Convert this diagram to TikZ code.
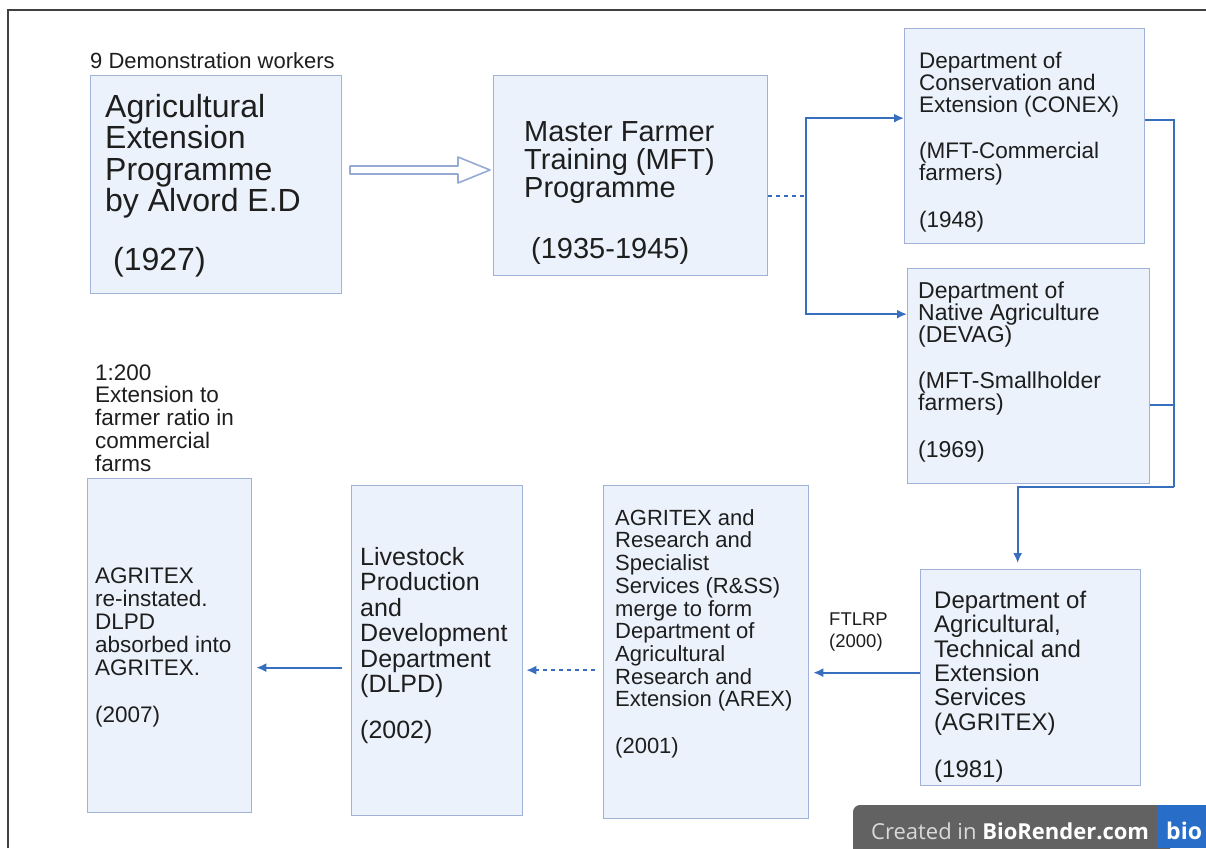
\documentclass[tikz,border=0pt]{standalone}
\usepackage{fontspec}
\setmainfont{Liberation Sans}
\newfontfamily\wmfont{Open Sans}
\usetikzlibrary{arrows.meta,calc}
\definecolor{boxfill}{RGB}{236,242,251}
\definecolor{boxline}{RGB}{160,178,214}
\definecolor{linkblue}{RGB}{55,110,190}
\definecolor{hollowline}{RGB}{150,170,210}
\definecolor{textcol}{RGB}{30,30,30}
\definecolor{wmgray}{RGB}{98,98,98}
\definecolor{wmblue}{RGB}{40,110,200}
\newcommand\topstrut{\rule{0pt}{30pt}}
\tikzset{
  box/.style = {draw = boxline, fill = boxfill, line width = 1.3pt, anchor = north west, inner sep = 0pt},
  txt/.style = {anchor = north west, inner sep = 0pt, align = left, text = textcol},
  link/.style = {draw = linkblue, line width = 1.8pt},
  dotlink/.style = {link, dash pattern = on 4pt off 4pt},
  tip/.style = {-{Latex[length=10pt,width=9pt]}},
  hollowarrow/.style = {draw = hollowline, fill = white, line width = 1.6pt, line join = round}
}
\begin{document}
\begin{tikzpicture}[x = 1pt, y = -1pt]
\useasboundingbox (0,0) rectangle (1206,848);
\draw[color = black!75, line width = 1.5pt] (8,848) -- (8,10) -- (1206,10);

\node[box, minimum width = 251pt, minimum height = 218pt] (alvord) at (90,75) {};
\node[box, minimum width = 274pt, minimum height = 200pt] (mft) at (493,75) {};
\node[box, minimum width = 240pt, minimum height = 215pt] (conex) at (904,28) {};
\node[box, minimum width = 242pt, minimum height = 215pt] (devag) at (907,268) {};
\node[box, minimum width = 220pt, minimum height = 216pt] (agritex) at (920,569) {};
\node[box, minimum width = 205pt, minimum height = 333pt] (arex) at (603,485) {};
\node[box, minimum width = 171pt, minimum height = 330pt] (dlpd) at (351,485) {};
\node[box, minimum width = 164pt, minimum height = 334pt] (reinstated) at (87,478) {};

% text nodes: first baseline lies 30pt below the given point
\node[txt, font = \fontsize{22}{22}\selectfont] (demo) at (90,38) {\topstrut 9 Demonstration workers};
\node[txt, font = \fontsize{32}{31.5}\selectfont] (alvordtext) at (105,87)
  {\topstrut Agricultural\\Extension\\Programme\\by Alvord E.D\\[27pt]\hspace*{8pt}(1927)};
\node[txt, font = \fontsize{29}{28}\selectfont] (mfttext) at (524,111)
  {\topstrut Master Farmer\\Training (MFT)\\Programme\\[33pt]\hspace*{7pt}(1935-1945)};
\node[txt, font = \fontsize{22.5}{22}\selectfont] (conextext) at (919,38)
  {\topstrut Department of\\Conservation and\\Extension (CONEX)\\[24pt](MFT-Commercial\\farmers)\\[25pt](1948)};
\node[txt, font = \fontsize{23}{22}\selectfont] (devagtext) at (918,268)
  {\topstrut Department of\\Native Agriculture\\(DEVAG)\\[24pt](MFT-Smallholder\\farmers)\\[25pt](1969)};
\node[txt, font = \fontsize{24}{24.4}\selectfont] (agritextext) at (934,578)
  {\topstrut Department of\\Agricultural,\\Technical and\\Extension\\Services\\(AGRITEX)\\[22.6pt](1981)};
\node[txt, font = \fontsize{22}{22.7}\selectfont] (arextext) at (615,495)
  {\topstrut AGRITEX and\\Research and\\Specialist\\Services (R\&SS)\\merge to form\\Department of\\Agricultural\\Research and\\Extension (AREX)\\[23.5pt](2001)};
\node[txt, font = \fontsize{25}{25.5}\selectfont] (dlpdtext) at (360,535)
  {\topstrut Livestock\\Production\\and\\Development\\Department\\(DLPD)\\[20pt](2002)};
\node[txt, font = \fontsize{22.5}{23}\selectfont] (reinstatedtext) at (95,553)
  {\topstrut AGRITEX\\re-instated.\\DLPD\\absorbed into\\AGRITEX.\\[24pt](2007)};
\node[txt, font = \fontsize{22.5}{22.7}\selectfont] (ratio) at (95,350)
  {\topstrut 1:200\\Extension to\\farmer ratio in\\commercial\\farms};
\node[txt, font = \fontsize{18.5}{22}\selectfont] (ftlrp) at (829,595) {\topstrut FTLRP\\(2000)};

\coordinate (ha) at (350,170);
\coordinate (hb) at (490,170);
\draw[hollowarrow] (ha) ++(0,-4) -- ++(108,0) -- ++(0,-9) -- (hb) -- ++(-32,13) -- ++(0,-9) -- ++(-108,0) -- cycle;

\draw[dotlink] ([yshift=-20pt]mft.east) -- ++(38,0) coordinate (split);
\draw[link, tip] (split) |- ([yshift=18pt]conex.west);
\draw[link, tip] (split) |- ([yshift=62pt]devag.west);

\coordinate (merge) at (1174,487);
\draw[link] ([yshift=16pt]conex.east) -| (merge);
\draw[link] ([yshift=-29pt]devag.east) -| (merge);
\draw[link, tip, shorten >= 6pt] (merge) -| ([xshift=-13pt]agritex.north);

\draw[link, tip, shorten >= 4pt] ([yshift=5pt]agritex.west) -- ([yshift=5pt]agritex.west -| arex.east);
\draw[dotlink, tip, shorten < = 8pt, shorten >= 3pt] ([yshift=-18pt]arex.west) -- ([yshift=-18pt]arex.west -| dlpd.east);
\draw[link, tip, shorten < = 9pt, shorten >= 4pt] ([yshift=-17pt]dlpd.west) -- ([yshift=-17pt]dlpd.west -| reinstated.east);

\fill[wmgray, rounded corners = 7pt] (853,860) -- (853,805) -- (1170,805) -- (1170,860) -- cycle;
\fill[wmblue] (1158,805) rectangle (1206,848);
\node[anchor = base west, inner sep = 0pt, font = \wmfont\fontsize{22}{22}\selectfont, text = white!85!black] (wmtext) at (871,839)
  {Created in \textbf{\color{white}BioRender.com}};
\node[anchor = base west, inner sep = 0pt, font = \wmfont\bfseries\fontsize{23}{23}\selectfont, text = white] (wmlogo) at (1166,839) {bio};
\end{tikzpicture}
\end{document}
